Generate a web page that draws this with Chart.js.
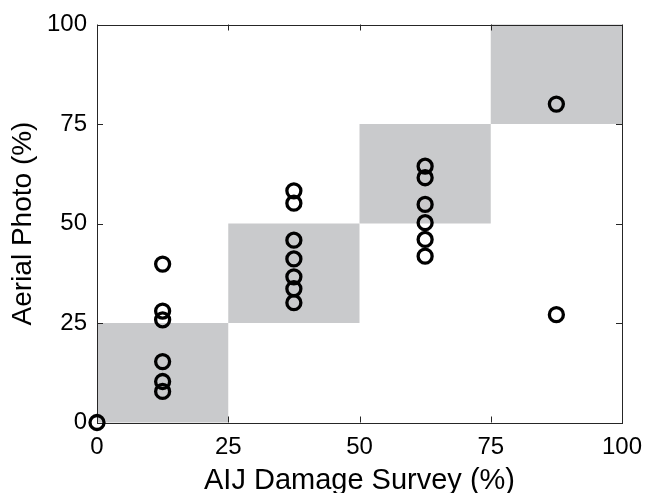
<!DOCTYPE html>
<html>
<head>
<meta charset="utf-8">
<script src="https://cdn.jsdelivr.net/npm/chart.js@4"></script>
<style>
html,body{margin:0;padding:0;background:#fff;}
#wrap{width:646px;height:493px;}
</style>
</head>
<body>
<div id="wrap"><canvas id="c" width="646" height="493"></canvas></div>
<script>
// Data
const xTicks = [0, 25, 50, 75, 100];
const yTicks = [0, 25, 50, 75, 100];
// AIJ Damage Survey (%) class midpoints
const surveyX = [0,
  12.5, 12.5, 12.5, 12.5, 12.5, 12.5,
  37.5, 37.5, 37.5, 37.5, 37.5, 37.5, 37.5,
  62.5, 62.5, 62.5, 62.5, 62.5, 62.5,
  87.5, 87.5];
// Aerial Photo (%) values
const photoY = [0,
  39.8, 28.0, 25.8, 15.3, 10.3, 7.8,
  58.2, 55.1, 45.8, 41.1, 36.6, 33.6, 30.1,
  64.4, 61.5, 54.8, 50.2, 46.0, 41.8,
  80.0, 27.1];
// agreement boxes (low, high) on both axes
const boxLow = [0, 25, 50, 75];
const boxHigh = [25, 50, 75, 100];

const points = surveyX.map((x, i) => ({x: x, y: photoY[i]}));

const FONT = "'Liberation Sans', Arial, Helvetica, sans-serif";

const decor = {
  id: 'decor',
  beforeDatasetsDraw(chart) {
    const {ctx, chartArea: a, scales: {x, y}} = chart;
    ctx.save();
    // gray boxes
    ctx.fillStyle = '#c9cacc';
    for (let i = 0; i < boxLow.length; i++) {
      const x0 = x.getPixelForValue(boxLow[i]), x1 = x.getPixelForValue(boxHigh[i]);
      const y0 = y.getPixelForValue(boxLow[i]), y1 = y.getPixelForValue(boxHigh[i]);
      ctx.fillRect(x0, y1, x1 - x0, y0 - y1);
    }
    // frame
    ctx.strokeStyle = '#262626';
    ctx.lineWidth = 1;
    ctx.strokeRect(Math.round(a.left) + 0.5, Math.round(a.top) + 0.5,
      Math.round(a.right) - Math.round(a.left), Math.round(a.bottom) - Math.round(a.top));
    // inward ticks
    const tl = 6;
    ctx.beginPath();
    xTicks.forEach(v => {
      const px = Math.round(x.getPixelForValue(v)) + 0.5;
      ctx.moveTo(px, a.bottom); ctx.lineTo(px, a.bottom - tl);
      ctx.moveTo(px, a.top); ctx.lineTo(px, a.top + tl);
    });
    yTicks.forEach(v => {
      const py = Math.round(y.getPixelForValue(v)) + 0.5;
      ctx.moveTo(a.left, py); ctx.lineTo(a.left + tl, py);
      ctx.moveTo(a.right, py); ctx.lineTo(a.right - tl, py);
    });
    ctx.stroke();
    ctx.restore();
  }
};

new Chart(document.getElementById('c'), {
  type: 'scatter',
  data: {
    datasets: [{
      data: points,
      pointStyle: 'circle',
      pointRadius: 7,
      pointHoverRadius: 7,
      pointBorderWidth: 3.3,
      pointBackgroundColor: 'rgba(0,0,0,0)',
      pointBorderColor: '#000',
      clip: false
    }]
  },
  options: {
    responsive: false,
    animation: false,
    events: [],
    layout: {padding: {top: 24.5, right: 24, left: 0, bottom: 0}},
    plugins: {legend: {display: false}, tooltip: {enabled: false}},
    scales: {
      x: {
        type: 'linear', min: 0, max: 100,
        afterFit: s => { s.height = 70.5; s.paddingLeft = 0; s.paddingRight = 0; },
        afterBuildTicks: s => { s.ticks = xTicks.map(v => ({value: v})); },
        grid: {display: false, drawTicks: false},
        border: {display: false},
        ticks: {color: '#000', padding: 10, font: {family: FONT, size: 24}, maxRotation: 0},
        title: {display: true, text: 'AIJ Damage Survey (%)', color: '#000',
          font: {family: FONT, size: 29}, padding: {top: 0, bottom: -5}}
      },
      y: {
        type: 'linear', min: 0, max: 100,
        afterFit: s => { s.width = 97; s.paddingTop = 0; s.paddingBottom = 0; },
        afterBuildTicks: s => { s.ticks = yTicks.map(v => ({value: v})); },
        grid: {display: false, drawTicks: false},
        border: {display: false},
        ticks: {color: '#000', padding: 10, font: {family: FONT, size: 24}},
        title: {display: true, text: 'Aerial Photo (%)', color: '#000',
          font: {family: FONT, size: 28}, padding: {top: 6.5, bottom: 0}}
      }
    }
  },
  plugins: [decor]
});
</script>
</body>
</html>
